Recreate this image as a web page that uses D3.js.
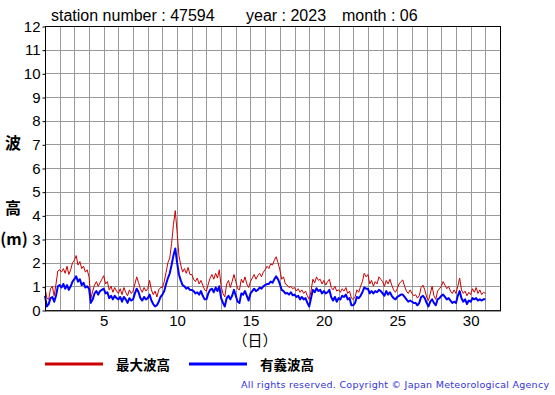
<!DOCTYPE html>
<html><head><meta charset="utf-8">
<script src="https://cdn.jsdelivr.net/npm/d3@7"></script>
<style>
html,body{margin:0;padding:0;background:#fff;}
svg{display:block;}
</style>
</head><body>
<svg id="chart" width="555" height="395"></svg>
<script>
// ---- data (3-hourly, starting day 1 00:00) ----
const titleParts = ["station number : 47594", "year : 2023", "month : 06"];
const yLabelChars = ["波", "高", "(m)"];
const xLabel = "（日）";
const legendNames = ["最大波高", "有義波高"];
const copyright = "All rights reserved. Copyright \u00A9 Japan Meteorological Agency";
const xTickLabels = [5, 10, 15, 20, 25, 30];
const yTickLabels = [0,1,2,3,4,5,6,7,8,9,10,11,12];
const startDay = 1;
const stepDays = 1/8;

const maxWave = [
  0.95,0.5,0.45,0.9,1.0,0.6,1.1,1.65,
  1.7,1.6,1.75,1.55,1.85,1.5,1.7,2.0,
  2.1,2.3,1.9,2.05,1.75,1.85,1.6,1.7,
  1.4,0.5,0.8,1.05,1.2,1.0,1.15,1.3,
  1.45,1.1,1.2,0.85,1.0,0.75,0.95,0.8,
  0.7,0.9,0.65,0.95,0.75,0.6,0.85,0.7,
  0.8,1.1,1.4,1.15,0.9,0.75,0.95,0.8,
  0.9,1.25,0.85,0.65,0.8,0.55,0.85,0.95,
  0.95,1.2,1.6,2.0,2.2,2.8,3.6,4.2,
  3.3,2.3,1.9,1.6,1.75,1.55,1.8,1.5,
  1.5,1.3,1.2,1.35,1.1,1.25,1.05,0.85,
  0.8,1.1,1.35,1.5,1.3,1.55,1.35,1.7,
  1.0,0.7,0.55,1.1,1.25,0.95,1.2,1.5,
  1.2,0.9,0.85,1.3,1.15,1.4,1.1,0.95,
  1.2,1.35,1.5,1.3,1.45,1.55,1.4,1.6,
  1.7,1.85,1.75,1.95,1.9,2.1,2.25,2.0,
  1.7,1.3,1.4,1.1,1.05,0.95,1.0,0.9,
  0.95,0.8,0.9,0.75,0.85,0.7,0.8,0.6,
  0.45,0.8,1.3,1.15,1.4,1.25,1.3,1.1,
  1.25,1.05,1.2,1.3,0.95,0.85,1.0,0.8,
  0.85,0.75,0.9,0.8,0.95,0.7,0.8,0.5,
  0.45,0.55,0.85,0.75,1.0,1.2,1.55,1.4,
  1.5,1.1,1.25,1.0,1.2,1.1,1.4,1.3,
  1.2,1.0,1.25,1.1,1.3,1.05,0.85,0.75,
  0.9,1.1,1.2,1.27,1.0,0.8,0.7,0.85,
  0.7,0.6,0.65,0.5,0.6,0.95,1.05,0.85,
  0.55,0.4,0.7,1.0,0.6,0.45,0.8,0.9,
  1.0,1.2,1.05,0.9,1.0,0.8,0.7,0.85,
  0.7,1.0,1.35,0.85,0.7,0.8,0.6,0.75,
  0.65,0.9,0.75,0.95,0.7,0.85,0.65,0.75,
  0.7
];
const sigWave = [
  0.6,0.15,0.25,0.5,0.55,0.35,0.6,1.0,
  1.05,0.95,1.1,0.9,1.05,0.85,1.0,1.2,
  1.3,1.42,1.2,1.3,1.05,1.15,0.95,1.0,
  0.9,0.3,0.45,0.7,0.8,0.65,0.8,0.85,
  0.9,0.7,0.75,0.5,0.6,0.45,0.6,0.5,
  0.45,0.55,0.35,0.55,0.45,0.3,0.5,0.4,
  0.45,0.7,0.9,0.75,0.5,0.4,0.55,0.45,
  0.5,0.65,0.4,0.25,0.15,0.2,0.35,0.55,
  0.65,0.8,1.1,1.35,1.55,1.9,2.3,2.6,
  2.0,1.5,1.25,1.05,1.0,0.9,0.95,0.85,
  0.85,0.8,0.7,0.75,0.65,0.8,0.6,0.45,
  0.45,0.7,0.85,0.9,0.75,0.95,0.8,1.0,
  0.5,0.3,0.15,0.5,0.6,0.45,0.6,0.85,
  0.6,0.35,0.3,0.7,0.65,0.8,0.6,0.4,
  0.7,0.8,0.9,0.8,0.85,0.95,0.9,1.0,
  1.05,1.1,1.1,1.2,1.15,1.3,1.42,1.3,
  1.1,0.85,0.8,0.7,0.72,0.65,0.75,0.62,
  0.65,0.55,0.6,0.45,0.55,0.45,0.5,0.3,
  0.15,0.5,0.85,0.75,0.92,0.8,0.85,0.7,
  0.8,0.7,0.75,0.85,0.55,0.4,0.55,0.35,
  0.5,0.45,0.6,0.55,0.65,0.45,0.5,0.2,
  0.2,0.3,0.55,0.5,0.6,0.75,0.95,0.9,
  0.9,0.7,0.8,0.7,0.8,0.75,0.85,0.8,
  0.7,0.6,0.8,0.65,0.75,0.6,0.5,0.45,
  0.55,0.6,0.65,0.65,0.55,0.45,0.35,0.4,
  0.35,0.3,0.3,0.2,0.3,0.55,0.6,0.5,
  0.3,0.15,0.35,0.45,0.3,0.2,0.45,0.5,
  0.6,0.65,0.55,0.45,0.5,0.4,0.3,0.35,
  0.3,0.6,0.8,0.5,0.35,0.45,0.25,0.4,
  0.35,0.5,0.45,0.5,0.4,0.45,0.4,0.45,
  0.45
];

// ---- drawing ----
const svg = d3.select("#chart");
const L = 45, R = 500, T = 26, B = 310;
const x = d3.scaleLinear().domain([1, 32]).range([L, R]);
const y = d3.scaleLinear().domain([0, 12]).range([B, T]);
const sans = "'Liberation Sans', Arial, Helvetica, sans-serif";
const cjk = "'Noto Sans CJK JP', sans-serif";

// grid
const grid = svg.append("g");
grid.selectAll("line.v").data(d3.range(2, 32)).join("line")
  .attr("x1", d => Math.round(x(d)) + 0.5).attr("x2", d => Math.round(x(d)) + 0.5)
  .attr("y1", T).attr("y2", B).attr("stroke", "#999").attr("stroke-width", 1);
grid.selectAll("line.h").data(d3.range(1, 12)).join("line")
  .attr("y1", d => Math.round(y(d)) + 0.5).attr("y2", d => Math.round(y(d)) + 0.5)
  .attr("x1", L).attr("x2", R).attr("stroke", "#999").attr("stroke-width", 1);

// data lines
const line = d3.line()
  .x((d, i) => x(startDay + i * stepDays))
  .y(d => y(d));
svg.append("path").datum(maxWave).attr("d", line)
  .attr("fill", "none").attr("stroke", "#cc0000").attr("stroke-width", 1).attr("stroke-linejoin", "round");
svg.append("path").datum(sigWave).attr("d", line)
  .attr("fill", "none").attr("stroke", "#0000ff").attr("stroke-width", 2).attr("stroke-linejoin", "round");

// frame
svg.append("rect").attr("x", L + 0.5).attr("y", T + 0.5).attr("width", R - L).attr("height", B - T)
  .attr("fill", "none").attr("stroke", "#000").attr("stroke-width", 1);
svg.append("line").attr("x1", L).attr("x2", R + 1).attr("y1", B + 1).attr("y2", B + 1)
  .attr("stroke", "#333").attr("stroke-width", 1);

// y axis
const yAxis = d3.axisLeft(y).tickValues(yTickLabels).tickSize(3).tickPadding(2);
const gy = svg.append("g").attr("transform", `translate(${L + 0.5},0.5)`).call(yAxis);
gy.select(".domain").remove();
gy.selectAll("text").attr("font-family", sans).attr("font-size", 15).attr("fill", "#000");

// x axis
const xAxis = d3.axisBottom(x).tickValues(xTickLabels).tickSize(0).tickPadding(5);
const gx = svg.append("g").attr("transform", `translate(0,${B})`).call(xAxis);
gx.select(".domain").remove();
gx.selectAll("text").attr("font-family", sans).attr("font-size", 15).attr("fill", "#000");

// title
const titleX = [51, 246, 342];
svg.selectAll("text.title").data(titleParts).join("text").attr("class", "title")
  .attr("x", (d, i) => titleX[i]).attr("y", 21)
  .attr("font-family", sans).attr("font-size", 16).attr("fill", "#000").text(d => d);

// y label
const yLabY = [142, 207, 238];
const yLabX = [13, 13, 14];
svg.selectAll("text.ylab").data(yLabelChars).join("text").attr("class", "ylab")
  .attr("x", (d, i) => yLabX[i]).attr("y", (d, i) => yLabY[i])
  .attr("text-anchor", "middle").attr("dominant-baseline", "central")
  .attr("font-family", cjk).attr("font-size", 16).attr("font-weight", "bold")
  .text(d => d);

// x label
svg.append("text").attr("x", 255).attr("y", 339).attr("text-anchor", "middle")
  .attr("dominant-baseline", "central").attr("font-family", cjk).attr("font-size", 15)
  .text(xLabel);

// legend
const legColors = ["#cc0000", "#0000ff"];
const legX = [45, 189];
const lg = svg.selectAll("g.leg").data(legendNames).join("g").attr("class", "leg");
lg.append("line").attr("x1", (d, i) => legX[i]).attr("x2", (d, i) => legX[i] + 58)
  .attr("y1", 364).attr("y2", 364).attr("stroke", (d, i) => legColors[i]).attr("stroke-width", 3);
lg.append("text").attr("x", (d, i) => legX[i] + 71).attr("y", 364)
  .attr("dominant-baseline", "central").attr("font-family", cjk).attr("font-size", 13.5)
  .attr("font-weight", "bold").text(d => d);

// copyright
svg.append("text").attr("x", 241).attr("y", 388).attr("font-family", "Verdana, 'DejaVu Sans', sans-serif")
  .attr("font-size", 9.5).attr("fill", "#3333dd").attr("textLength", 308).attr("lengthAdjust", "spacing")
  .text(copyright);
</script>
</body></html>
